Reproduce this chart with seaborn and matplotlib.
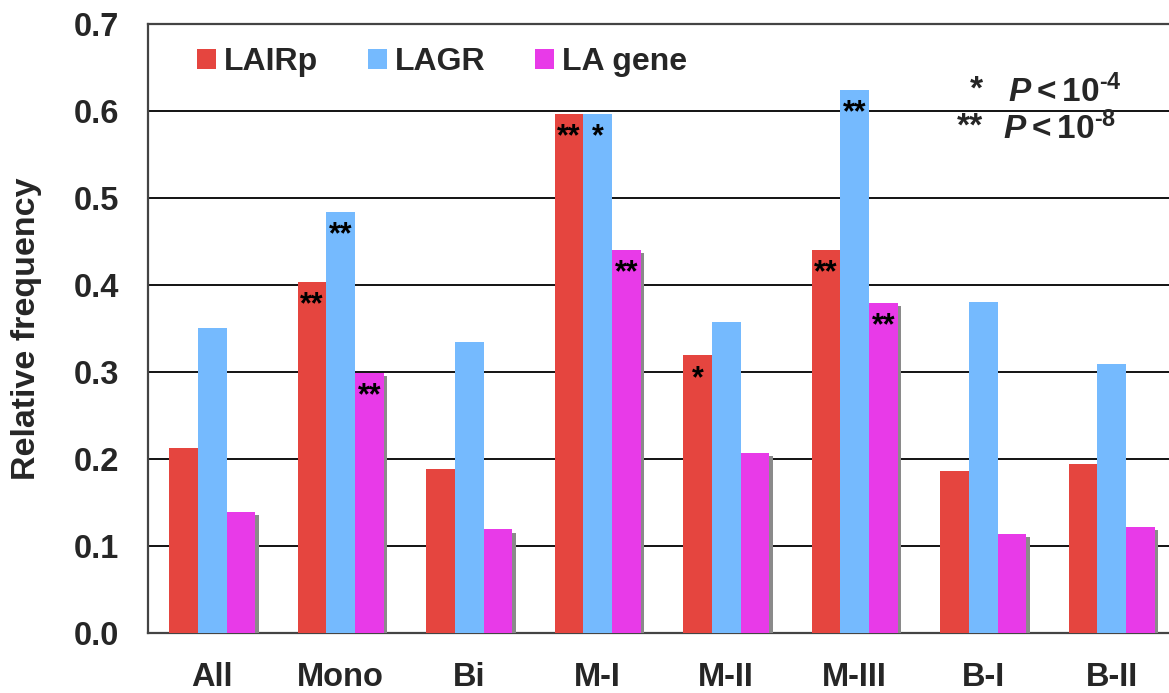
import matplotlib
matplotlib.use("Agg")
import matplotlib.pyplot as plt
import matplotlib.patheffects as pe
from matplotlib.patches import Patch
import numpy as np
import pandas as pd
import seaborn as sns

# ---- data ----
categories = ["All", "Mono", "Bi", "M-I", "M-II", "M-III", "B-I", "B-II"]
series = ["LAIRp", "LAGR", "LA gene"]
lairp = [0.213, 0.403, 0.189, 0.597, 0.319, 0.440, 0.186, 0.194]
lagr = [0.351, 0.484, 0.334, 0.597, 0.357, 0.624, 0.381, 0.309]
la_gene = [0.139, 0.299, 0.119, 0.440, 0.207, 0.379, 0.114, 0.122]

# significance marks per series
marks_lairp = ["", "**", "", "**", "*", "**", "", ""]
marks_lagr = ["", "**", "", "*", "", "**", "", ""]
marks_la_gene = ["", "**", "", "**", "", "**", "", ""]

yticks = [0.0, 0.1, 0.2, 0.3, 0.4, 0.5, 0.6, 0.7]
colors = ["#E5453F", "#75BAFE", "#E83AE8"]

df = pd.DataFrame({
    "category": categories * 3,
    "series": [s for s in series for _ in categories],
    "value": lairp + lagr + la_gene,
})

sns.set_theme(style="white")
plt.rcParams["font.family"] = ["Liberation Sans", "DejaVu Sans"]
plt.rcParams["font.weight"] = "bold"
plt.rcParams["mathtext.fontset"] = "custom"
plt.rcParams["mathtext.rm"] = "Liberation Sans:bold"
plt.rcParams["mathtext.it"] = "Liberation Sans:italic:bold"
plt.rcParams["mathtext.bf"] = "Liberation Sans:bold"

fig = plt.figure(figsize=(11.69, 6.93), dpi=100)
ax = fig.add_axes([148 / 1169, 60 / 693, 1028 / 1169, 609 / 693])

sns.barplot(data=df, x="category", y="value", hue="series", order=categories,
            hue_order=series, palette=colors, width=0.673, gap=0,
            saturation=1, linewidth=0, ax=ax, legend=False, zorder=3)

# drop shadow on the last series
for bar in ax.containers[2]:
    bar.set_path_effects([pe.SimplePatchShadow(offset=(2.2, -2.2),
                                               shadow_rgbFace="#8a8a8a",
                                               alpha=1.0),
                          pe.Normal()])

ax.set_xlim(-0.5, len(categories) - 0.5)
ax.set_ylim(0, 0.7)
ax.set_yticks(yticks)
ax.set_yticklabels([f"{t:.1f}" for t in yticks])
ax.yaxis.grid(True, color="black", linewidth=1.3, zorder=0)
ax.set_axisbelow(True)

ax.set_xlabel("")
ax.set_ylabel("Relative frequency", fontsize=24.5, fontweight="bold", labelpad=23)

ax.tick_params(axis="y", direction="in", length=4, width=1, color="#444444",
               labelsize=23.5, pad=21)
ax.tick_params(axis="x", which="major", length=0, labelsize=23.5, pad=21)
ax.set_xticks(np.arange(len(categories)) + 0.5, minor=True)
ax.tick_params(axis="x", which="minor", direction="in", length=7, width=1,
               color="#444444")
for lab in ax.get_xticklabels() + ax.get_yticklabels():
    lab.set_fontweight("bold")

for side in ["left", "bottom", "top"]:
    ax.spines[side].set_color("#444444")
    ax.spines[side].set_linewidth(1.6)
ax.spines["right"].set_visible(False)

# significance stars inside the bar tops
for container, marks in zip(ax.containers, [marks_lairp, marks_lagr, marks_la_gene]):
    for bar, m in zip(container, marks):
        if m:
            ax.annotate(m, (bar.get_x() + bar.get_width() / 2, bar.get_height()),
                        xytext=(0, -6), textcoords="offset points",
                        ha="center", va="top", fontsize=22, fontweight="bold",
                        color="black", zorder=5)

# legend
handles = [Patch(facecolor=c, edgecolor="none") for c in colors]
ax.legend(handles, series, ncol=3, frameon=False, loc="upper left",
          bbox_to_anchor=(197 / 1169, 1 - 47 / 693), bbox_transform=fig.transFigure,
          borderpad=0, borderaxespad=0, handlelength=0.6, handleheight=0.6,
          handletextpad=0.25, columnspacing=1.55,
          prop={"size": 23, "weight": "bold"})

# p-value key
fig.text(983 / 1169, 1 - 90 / 693, "*", fontsize=24, fontweight="bold",
         ha="right", va="center")
fig.text(1008 / 1169, 1 - 92 / 693, r"$P < 10^{\text{-}4}$", fontsize=24,
         ha="left", va="center")
fig.text(983 / 1169, 1 - 127 / 693, "**", fontsize=24, fontweight="bold",
         ha="right", va="center")
fig.text(1003 / 1169, 1 - 129 / 693, r"$P < 10^{\text{-}8}$", fontsize=24,
         ha="left", va="center")

fig.savefig("out.png", dpi=100)
